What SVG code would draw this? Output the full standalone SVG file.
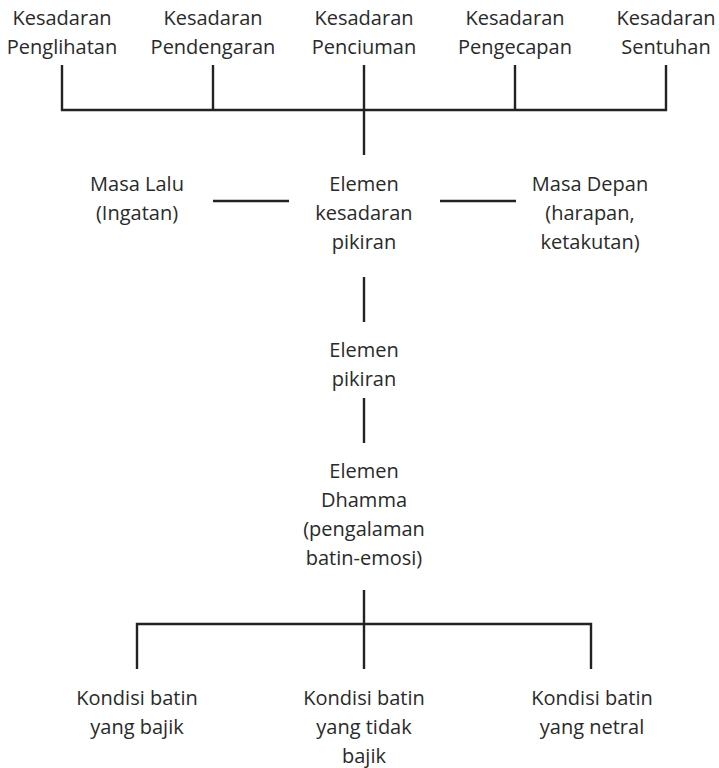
<svg xmlns="http://www.w3.org/2000/svg" width="719" height="768" viewBox="0 0 719 768">
<style>
.t{font-family:"Open Sans","Noto Sans","Liberation Sans",sans-serif;font-size:20px;fill:#2a2a2a;text-anchor:middle}
.c{fill:none;stroke:#222;stroke-width:2.4;stroke-linecap:butt;stroke-linejoin:miter}
</style>
<rect width="719" height="768" fill="#fff"/>
<g id="connectors">
<polyline class="c" points="62,65 62,110 666,110 666,65"/>
<line class="c" x1="213" y1="65" x2="213" y2="110"/>
<line class="c" x1="515" y1="65" x2="515" y2="110"/>
<line class="c" x1="364" y1="65" x2="364" y2="155"/>
<line class="c" x1="213" y1="201" x2="289" y2="201"/>
<line class="c" x1="440" y1="201" x2="516" y2="201"/>
<line class="c" x1="364" y1="277" x2="364" y2="322"/>
<line class="c" x1="364" y1="398" x2="364" y2="443"/>
<line class="c" x1="364" y1="590" x2="364" y2="669"/>
<polyline class="c" points="137,669 137,624 591,624 591,669"/>
</g>
<g id="kesadaran-penglihatan"><text class="t" x="62" y="25">Kesadaran</text><text class="t" x="62" y="54">Penglihatan</text></g>
<g id="kesadaran-pendengaran"><text class="t" x="213" y="25">Kesadaran</text><text class="t" x="213" y="54">Pendengaran</text></g>
<g id="kesadaran-penciuman"><text class="t" x="364" y="25">Kesadaran</text><text class="t" x="364" y="54">Penciuman</text></g>
<g id="kesadaran-pengecapan"><text class="t" x="515" y="25">Kesadaran</text><text class="t" x="515" y="54">Pengecapan</text></g>
<g id="kesadaran-sentuhan"><text class="t" x="666" y="25">Kesadaran</text><text class="t" x="666" y="54">Sentuhan</text></g>
<g id="masa-lalu"><text class="t" x="137" y="191">Masa Lalu</text><text class="t" x="137" y="220">(Ingatan)</text></g>
<g id="elemen-kesadaran-pikiran"><text class="t" x="364" y="191">Elemen</text><text class="t" x="364" y="220">kesadaran</text><text class="t" x="364" y="249">pikiran</text></g>
<g id="masa-depan"><text class="t" x="590" y="191">Masa Depan</text><text class="t" x="590" y="220">(harapan,</text><text class="t" x="590" y="249">ketakutan)</text></g>
<g id="elemen-pikiran"><text class="t" x="364" y="357">Elemen</text><text class="t" x="364" y="386">pikiran</text></g>
<g id="elemen-dhamma"><text class="t" x="364" y="478">Elemen</text><text class="t" x="364" y="507">Dhamma</text><text class="t" x="364" y="536">(pengalaman</text><text class="t" x="364" y="565">batin-emosi)</text></g>
<g id="kondisi-bajik"><text class="t" x="137" y="705">Kondisi batin</text><text class="t" x="137" y="734">yang bajik</text></g>
<g id="kondisi-tidak-bajik"><text class="t" x="364" y="705">Kondisi batin</text><text class="t" x="364" y="734">yang tidak</text><text class="t" x="364" y="763">bajik</text></g>
<g id="kondisi-netral"><text class="t" x="592" y="705">Kondisi batin</text><text class="t" x="592" y="734">yang netral</text></g>
</svg>
